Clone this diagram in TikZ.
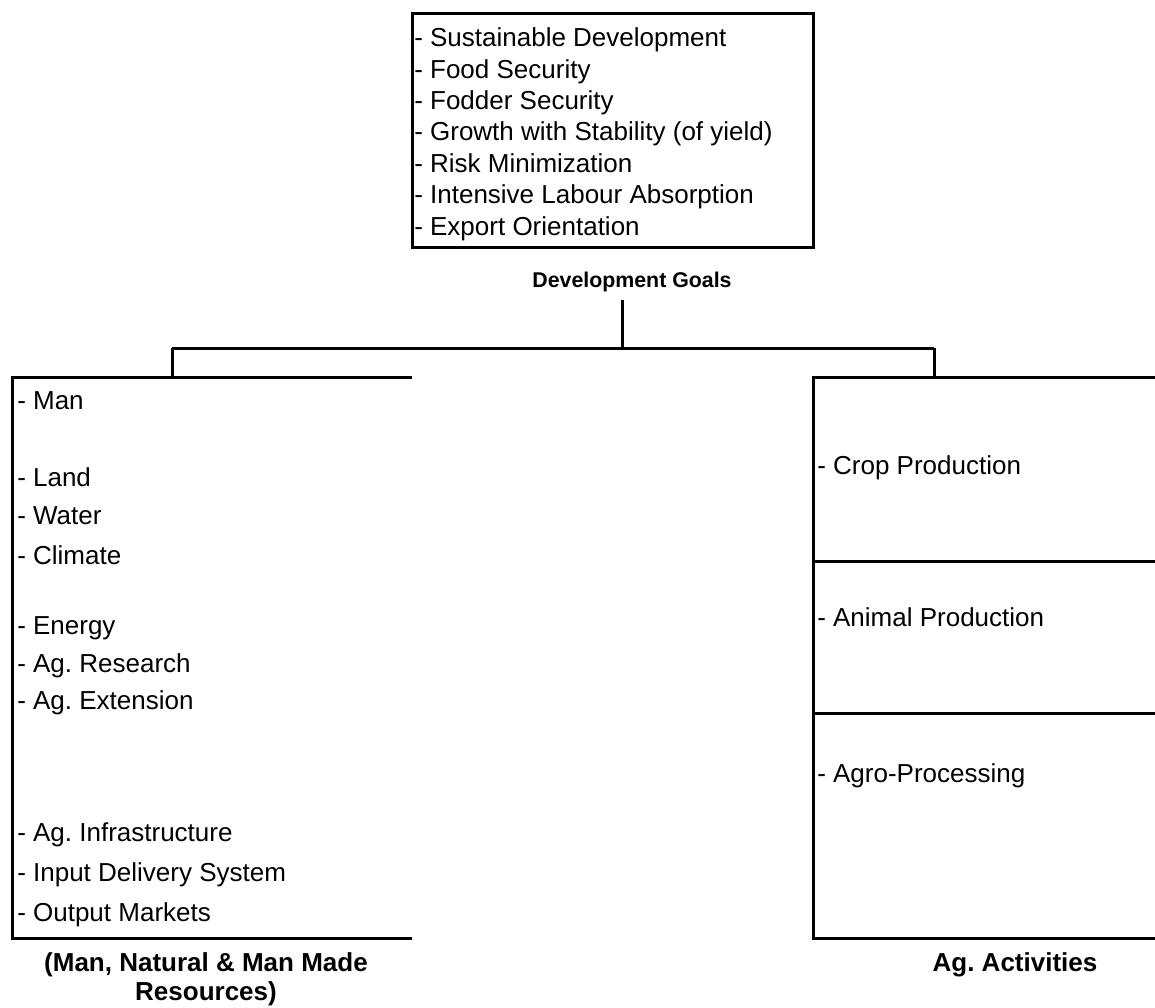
\documentclass[tikz,border=0pt]{standalone}
\usepackage{fontspec}
\setmainfont{Liberation Sans}
\frenchspacing
\begin{document}
\begin{tikzpicture}[x=0.75pt,y=-0.75pt,
  line/.style={line width=2.25pt},
  item/.style={anchor=base west, inner sep=0pt, font=\fontsize{19.5}{23}\selectfont\frenchspacing},
  captxt/.style={anchor=base, inner sep=0pt, font=\fontsize{19.5}{23}\selectfont\bfseries\frenchspacing},
  frame/.style={inner sep=0pt, outer sep=0pt, anchor=north west}]
\useasboundingbox (0,0) rectangle (1155,1007);

% Development goals box
\node[frame, draw, line width=2.25pt, minimum width=300.75pt, minimum height=175.5pt] (goals) at (412,13) {};
\foreach \t [count=\i] in {Sustainable Development, Food Security, Fodder Security, Growth with Stability (of yield), Risk Minimization, Intensive Labour Absorption, Export Orientation}
  \node[item] (g\i) at ({414},{46.7+31.4*(\i-1)}) {- \t};
\node[captxt, font=\fontsize{16}{19}\selectfont\bfseries] (glabel) at (632,287) {Development Goals};

% Resources box (open on the right)
\node[frame, minimum width=300pt, minimum height=420.75pt] (res) at (12,377) {};
\draw[line] (res.north east) -- (res.north west) -- (res.south west) -- (res.south east);
\node[item] (r1) at (17,409) {- Man};
\node[item] (r2) at (17,486) {- Land};
\node[item] (r3) at (17,524) {- Water};
\node[item] (r4) at (17,564) {- Climate};
\node[item] (r5) at (17,634) {- Energy};
\node[item] (r6) at (17,672) {- Ag. Research};
\node[item] (r7) at (17,709) {- Ag. Extension};
\node[item] (r8) at (17,841) {- Ag. Infrastructure};
\node[item] (r9) at (17,881) {- Input Delivery System};
\node[item] (r10) at (17,921) {- Output Markets};
\node[captxt] (rescap1) at (206,971) {(Man, Natural \& Man Made};
\node[captxt] (rescap2) at (206,1000) {Resources)};

% Activities boxes (open on the right)
\node[frame, minimum width=256.5pt, minimum height=138pt] (crop) at (813,377) {};
\node[frame, minimum width=256.5pt, minimum height=114pt] (animal) at (813,561) {};
\node[frame, minimum width=256.5pt, minimum height=168.75pt] (agro) at (813,713) {};
\draw[line] (crop.north east) -- (crop.north west) -- (agro.south west) -- (agro.south east);
\draw[line] (animal.north west) -- (animal.north east);
\draw[line] (agro.north west) -- (agro.north east);
\node[item] (a1) at (817,474) {- Crop Production};
\node[item] (a2) at (817,626) {- Animal Production};
\node[item] (a3) at (817,782) {- Agro-Processing};
\node[captxt] (acap) at (1015,971) {Ag. Activities};

% Tree connectors
\coordinate (j) at (622,348);
\coordinate (jl) at (172,348);
\coordinate (jr) at (934,348);
\draw[line, shorten <=6pt] (glabel.south -| j) -- (j);
\draw[line] (jl) -- (jr);
\draw[line] (jl) -- (jl |- res.north);
\draw[line] (jr) -- (jr |- crop.north);
\end{tikzpicture}
\end{document}
